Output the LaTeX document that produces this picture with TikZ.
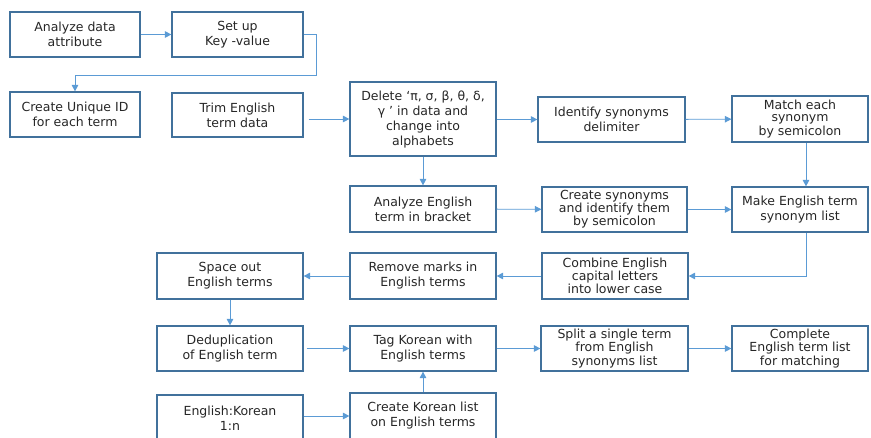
\documentclass[tikz,border=0pt]{standalone}
\usepackage{fontspec}
\setmainfont{DejaVu Sans}
\usetikzlibrary{arrows.meta}
\definecolor{boxblue}{HTML}{41719C}
\definecolor{arrblue}{HTML}{5B9BD5}
\begin{document}
\begin{tikzpicture}[x=1pt,y=-1pt,
 box/.style={draw=boxblue, line width=1.2pt, align=center, inner sep=0pt, font=\fontsize{12.5}{15}\selectfont, text=black!85},
 tight/.style={font=\fontsize{12.5}{12}\selectfont},
 arr/.style={draw=arrblue, line width=0.9pt, -{Triangle[length=6.5pt,width=6.5pt]}}]
\useasboundingbox (0,0) rectangle (871,437);
\clip (0,0) rectangle (871,437);
% row 1
\node[box, minimum width=130pt, minimum height=45pt] (A) at (75,34.5) {Analyze data\\attribute};
\node[box, minimum width=131pt, minimum height=45pt] (B) at (237.5,34.5) {Set up\\Key -value};
% row 2
\node[box, minimum width=130pt, minimum height=45pt] (C) at (75,114.5) {Create Unique ID\\for each term};
\node[box, minimum width=131pt, minimum height=44pt] (D) at (237.5,115) {Trim English\\term data};
\node[box, minimum width=146pt, minimum height=74pt] (E) at (423,119) {Delete ‘π, σ, β, θ, δ,\\γ ’ in data and\\change into\\alphabets};
\node[box, minimum width=147pt, minimum height=45pt] (F) at (611.5,119.5) {Identify synonyms\\delimiter};
\node[box, tight, minimum width=136pt, minimum height=46pt] (G) at (800,119) {Match each\\synonym\\by semicolon};
% row 3
\node[box, minimum width=146pt, minimum height=46pt] (H) at (423,209) {Analyze English\\term in bracket};
\node[box, tight, minimum width=145pt, minimum height=45pt] (I) at (614.5,209.5) {Create synonyms\\and identify them\\by semicolon};
\node[box, minimum width=136pt, minimum height=45pt] (J) at (800,209.5) {Make English term\\synonym list};
% row 4
\node[box, tight, minimum width=146pt, minimum height=46pt] (K) at (615,276) {Combine English\\capital letters\\into lower case};
\node[box, minimum width=146pt, minimum height=46pt] (L) at (423,276) {Remove marks in\\English terms};
\node[box, minimum width=146pt, minimum height=46pt] (M) at (230,276) {Space out\\English terms};
% row 5
\node[box, minimum width=146pt, minimum height=45pt] (N) at (230,348.5) {Deduplication\\of English term};
\node[box, minimum width=146pt, minimum height=45pt] (O) at (423,348.5) {Tag Korean with\\English terms};
\node[box, tight, minimum width=147pt, minimum height=45pt] (P) at (614.5,348.5) {Split a single term\\from English\\synonyms list};
\node[box, tight, minimum width=136pt, minimum height=45pt] (Q) at (800,348.5) {Complete\\English term list\\for matching};
% row 6
\node[box, minimum width=146pt, minimum height=46pt] (R) at (230,418) {English:Korean\\1:n};
\node[box, minimum width=146pt, minimum height=46pt] (S) at (423,416) {Create Korean list\\on English terms};
% connectors
\draw[arr] (A) -- (B);
\draw[arr] (B.east) -- ++(13,0) -- ++(0,40.5) -| (C.north);
\draw[arr, shorten <=5pt] (D.east |- E.west) -- (E.west);
\draw[arr] (E.east |- F.west) -- (F.west);
\draw[arr] (F) -- (G);
\draw[arr] (E) -- (H);
\draw[arr] ([xshift=6pt]G.south) -- ([xshift=6pt]J.north);
\draw[arr] (H) -- (I);
\draw[arr] (I) -- (J);
\draw[arr] ([xshift=6pt]J.south) |- (K.east);
\draw[arr] (K) -- (L);
\draw[arr] (L) -- (M);
\draw[arr] (M) -- (N);
\draw[arr, shorten <=3pt] (N) -- (O);
\draw[arr] (O) -- (P);
\draw[arr] (P) -- (Q);
\draw[arr] (R.east |- S.west) -- (S.west);
\draw[arr] (S) -- (O);
\end{tikzpicture}
\end{document}
